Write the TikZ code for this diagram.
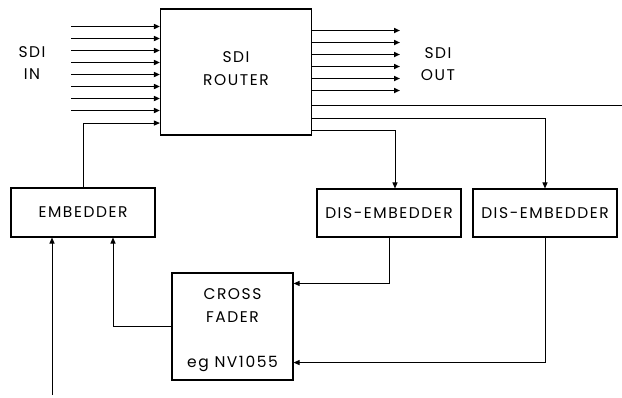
\documentclass[tikz,border=0pt]{standalone}
\usepackage{fontspec}
\setmainfont{Poppins}[LetterSpace=10]
\usetikzlibrary{arrows.meta,positioning,calc}
\tikzset{
  box/.style   = {draw,line width=1.1pt,align=center,inner sep=0pt,
                  font=\fontsize{15.5}{23}\selectfont},
  sig/.style   = {-{Triangle[length=6pt,width=5pt]},line width=1.8pt},
  wire/.style  = {line width=1pt},
  warr/.style  = {wire,-{Triangle[length=6pt,width=5pt]}},
  lbl/.style   = {align=center,font=\fontsize{15.5}{22}\selectfont},
}
\begin{document}
\begin{tikzpicture}[x=1pt,y=-1pt]
  \useasboundingbox (0,0) rectangle (622,397);
  % blocks
  \node[box,minimum width=151pt,minimum height=126pt] (router) at (236,72) {SDI\\ROUTER\\[-22pt]\strut};
  \node[box,minimum width=144pt,minimum height=49pt] (embedder) at (83,212.5) {EMBEDDER};
  \node[box,minimum width=144pt,minimum height=48pt] (dis1) at (389,213) {DIS-EMBEDDER};
  \node[box,minimum width=144pt,minimum height=48pt] (dis2) at (545,213) {DIS-EMBEDDER};
  \node[box,minimum width=121pt,minimum height=107pt] (fader) at (232.5,326.5)
    {\strut\\[-21pt]CROSS\\FADER\\[22pt]eg NV1055};
  \node[lbl] (sdiin) at (32,63) {SDI\\IN};
  \node[lbl] (sdiout) at (438,64) {SDI\\OUT};
  % router inputs and outputs
  \foreach \i in {0,...,7}{
    \coordinate (in\i) at (71,26.5+12*\i);
    \draw[sig] (in\i) -- (in\i -| router.west);
  }
  \foreach \i in {0,...,5}{
    \coordinate (out\i) at (400,30.5+12*\i);
    \draw[sig] (out\i -| router.east) -- (out\i);
  }
  \coordinate (thru) at (622,105);
  \draw[wire] (thru -| router.east) -- (thru);
  % audio paths
  \draw[warr] (embedder.north) |- ($(router.south west)+(0,-12.5)$);
  \draw[warr] ($(router.south east)+(0,-17.5)$) -| (dis2.north);
  \draw[warr] ($(router.south east)+(0,-5.5)$) -| ([xshift=6pt]dis1.north);
  \draw[warr] (dis1.south) |- ($(fader.north east)+(0,11)$);
  \draw[warr] (dis2.south) |- ($(fader.south east)+(0,-18)$);
  \draw[warr] (fader.west) -| ($(embedder.south)+(30,0)$);
  \coordinate (audio) at (52,395);
  \draw[warr] (audio) -- (audio |- embedder.south);
\end{tikzpicture}
\end{document}
